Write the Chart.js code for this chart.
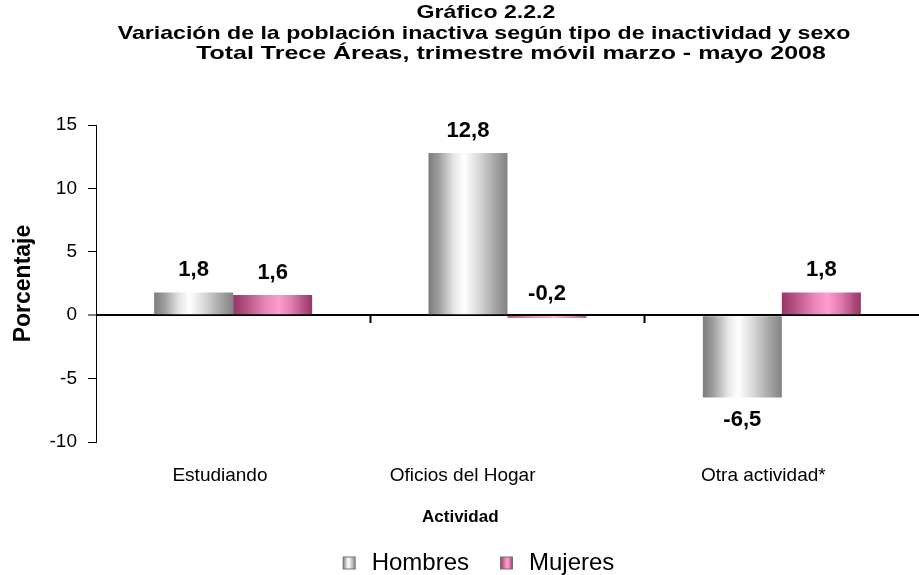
<!DOCTYPE html>
<html>
<head>
<meta charset="utf-8">
<title>Gráfico 2.2.2</title>
<script src="https://cdn.jsdelivr.net/npm/chart.js@4.4.1/dist/chart.umd.min.js"></script>
<style>
  html, body { margin: 0; padding: 0; background: #fff; }
  #wrap { width: 919px; height: 575px; }
</style>
</head>
<body>
<div id="wrap"><canvas id="chart" width="919" height="575"></canvas></div>
<script>
// data
const categories = ['Estudiando', 'Oficios del Hogar', 'Otra actividad*'];
const seriesNames = ['Hombres', 'Mujeres'];
const hombres = [1.8, 12.8, -6.5];
const mujeres = [1.6, -0.2, 1.8];
const yMin = -10;
const yMax = 15;
const yStep = 5;

const titleLines = [
    'Gráfico 2.2.2',
    'Variación de la población inactiva según tipo de inactividad y sexo',
    'Total Trece Áreas, trimestre móvil marzo - mayo 2008'
];
const xTitle = 'Actividad';

// the source title is a stretched picture: wide glyphs, short lines
const TITLE_FONT = 'bold 18.5px "Liberation Sans", Arial, sans-serif';
const titleStretch = [1.25, 1.25, 1.35];
const titleCenterX = [486, 484, 511];
const titleCenterY = [13, 33.5, 54];

// the source axis text sits a bit off its anchor; pad with spaces to nudge it
const labelPad = [5, 17, 7];
const xTitlePad = 20;

const CAT_PCT = 0.576;

// cylinder-like shading, left to right
const grayStops = [[0, '#7d7d7d'], [0.12, '#9a9a9a'], [0.32, '#e6e6e6'], [0.45, '#ffffff'], [0.62, '#dcdcdc'], [0.85, '#a4a4a4'], [1, '#828282']];
const pinkStops = [[0, '#98366a'], [0.15, '#b4507f'], [0.4, '#e884b6'], [0.58, '#ff9dcd'], [0.75, '#e07aae'], [0.9, '#b24e80'], [1, '#953767']];

Chart.defaults.font.family = '"Liberation Sans", Arial, sans-serif';
Chart.defaults.color = '#000';

function barFill(stops, side) {
    return function(c) {
        const chart = c.chart;
        const xs = chart.scales.x;
        if (!xs || c.dataIndex === undefined || !chart.chartArea) return stops[3][1];
        const w = xs.width / categories.length * CAT_PCT / 2;
        const mid = xs.getPixelForValue(c.dataIndex);
        const x0 = side === 0 ? mid - w : mid;
        const g = chart.ctx.createLinearGradient(x0, 0, x0 + w, 0);
        stops.forEach(s => g.addColorStop(s[0], s[1]));
        return g;
    };
}

function legendIcon(stops) {
    const cv = document.createElement('canvas');
    cv.width = 38;
    cv.height = 15;
    const g = cv.getContext('2d');
    const grad = g.createLinearGradient(21, 0, 34, 0);
    stops.forEach(s => grad.addColorStop(s[0], s[1]));
    g.fillStyle = grad;
    g.fillRect(21, 1, 13, 13);
    g.strokeStyle = '#6f6f6f';
    g.lineWidth = 1;
    g.strokeRect(21.5, 1.5, 12, 12);
    return cv;
}
const legendIcons = [legendIcon(grayStops), legendIcon(pinkStops)];

function fmt(v) {
    return v.toFixed(1).replace('.', ',');
}

const valueLabels = {
    id: 'valueLabels',
    afterDatasetsDraw(chart) {
        const ctx = chart.ctx;
        ctx.save();
        ctx.font = 'bold 22px "Liberation Sans", Arial, sans-serif';
        ctx.fillStyle = '#000';
        ctx.textAlign = 'center';
        ctx.textBaseline = 'middle';
        chart.data.datasets.forEach((ds, i) => {
            chart.getDatasetMeta(i).data.forEach((bar, j) => {
                const v = ds.data[j];
                const top = Math.min(bar.y, bar.base);
                const bottom = Math.max(bar.y, bar.base);
                // small negatives keep their label above, like the source
                const y = v < -1 ? bottom + 22 : top - 22;
                ctx.fillText(fmt(v), bar.x, y);
            });
        });
        ctx.restore();
    }
};

const stretchedTitle = {
    id: 'stretchedTitle',
    afterDraw(chart) {
        const ctx = chart.ctx;
        ctx.save();
        ctx.font = TITLE_FONT;
        ctx.fillStyle = '#000';
        ctx.textAlign = 'center';
        ctx.textBaseline = 'middle';
        titleLines.forEach((line, i) => {
            ctx.save();
            ctx.translate(titleCenterX[i], titleCenterY[i]);
            ctx.scale(titleStretch[i], 1);
            ctx.fillText(line, 0, 0);
            ctx.restore();
        });
        ctx.restore();
    }
};

new Chart(document.getElementById('chart'), {
    type: 'bar',
    data: {
        labels: categories,
        datasets: [{
            label: seriesNames[0],
            data: hombres,
            backgroundColor: barFill(grayStops, 0),
            borderWidth: 0
        }, {
            label: seriesNames[1],
            data: mujeres,
            backgroundColor: barFill(pinkStops, 1),
            borderWidth: 0
        }]
    },
    options: {
        responsive: false,
        animation: false,
        devicePixelRatio: 1,
        categoryPercentage: CAT_PCT,
        barPercentage: 1,
        layout: { padding: { top: 125, left: 17, right: 0, bottom: -10 } },
        plugins: {
            title: { display: false },
            legend: {
                position: 'bottom',
                labels: {
                    usePointStyle: true,
                    pointStyleWidth: 38,
                    padding: 10,
                    color: '#000',
                    font: { size: 24 },
                    generateLabels: (chart) => chart.data.datasets.map((ds, i) => ({
                        text: ds.label,
                        pointStyle: legendIcons[i],
                        fillStyle: 'transparent',
                        strokeStyle: 'transparent',
                        lineWidth: 0,
                        hidden: false,
                        datasetIndex: i
                    }))
                }
            },
            tooltip: { enabled: false }
        },
        scales: {
            x: {
                type: 'category',
                offset: true,
                grid: { display: false, drawTicks: false, offset: true },
                border: { display: false },
                ticks: {
                    padding: 22,
                    font: { size: 19 },
                    color: '#000',
                    maxRotation: 0,
                    autoSkip: false,
                    callback: (v, i) => categories[i] + ' '.repeat(labelPad[i])
                },
                title: {
                    display: true,
                    text: xTitle + ' '.repeat(xTitlePad),
                    font: { size: 17, weight: 'bold' },
                    color: '#000',
                    padding: { top: 0, bottom: 13.8 }
                },
                afterFit(scale) { scale.height = 99; }
            },
            // second category axis sitting on the zero line, only for its tick marks
            x2: {
                type: 'category',
                axis: 'x',
                position: { y: 0 },
                offset: true,
                grid: {
                    offset: true,
                    drawOnChartArea: false,
                    drawTicks: true,
                    tickLength: 8,
                    tickWidth: 2,
                    tickColor: (c) => (c.index === 1 || c.index === 2) ? '#000' : 'rgba(0,0,0,0)'
                },
                border: { display: false },
                ticks: { display: false }
            },
            y: {
                min: yMin,
                max: yMax,
                ticks: { stepSize: yStep, padding: 11, font: { size: 19 }, color: '#000' },
                grid: {
                    color: (c) => c.tick && c.tick.value === 0 ? '#000' : 'rgba(0,0,0,0)',
                    lineWidth: (c) => c.tick && c.tick.value === 0 ? 2 : 1,
                    drawTicks: true,
                    tickLength: 8,
                    tickColor: '#000',
                    tickWidth: 1
                },
                border: { display: true, color: '#000', width: 1 },
                title: {
                    display: true,
                    text: 'Porcentaje',
                    font: { size: 23, weight: 'bold' },
                    color: '#000',
                    padding: { top: -7, bottom: 0 }
                },
                afterFit(scale) { scale.width = 79; }
            }
        }
    },
    plugins: [valueLabels, stretchedTitle]
});
</script>
</body>
</html>
